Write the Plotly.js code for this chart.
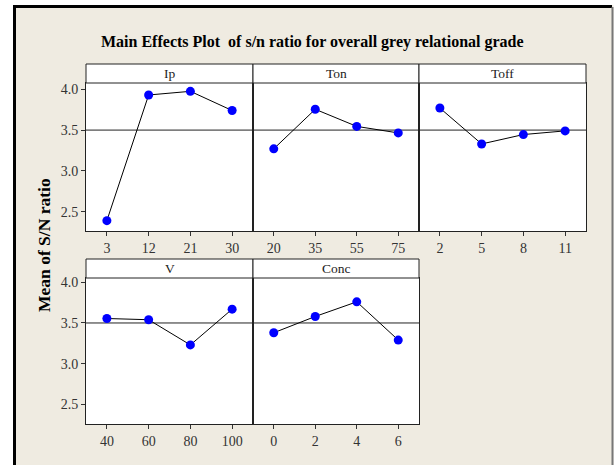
<!DOCTYPE html>
<html>
<head>
<meta charset="utf-8">
<script src="https://cdn.plot.ly/plotly-3.0.1.min.js"></script>
<style>html,body{margin:0;padding:0;background:#fff;}#chart{width:614px;height:465px;}</style>
</head>
<body>
<div id="chart"></div>
<script>
// ---- data ----
const factors = ["Ip", "Ton", "Toff", "V", "Conc"];
const levelsIp = ["3", "12", "21", "30"];
const levelsTon = ["20", "35", "55", "75"];
const levelsToff = ["2", "5", "8", "11"];
const levelsV = ["40", "60", "80", "100"];
const levelsConc = ["0", "2", "4", "6"];
const snIp = [2.39, 3.93, 3.975, 3.74];
const snTon = [3.27, 3.755, 3.545, 3.465];
const snToff = [3.77, 3.33, 3.445, 3.49];
const snV = [3.555, 3.54, 3.23, 3.67];
const snConc = [3.38, 3.58, 3.76, 3.29];
const overallMean = 3.5;
const yTickVals = [2.5, 3.0, 3.5, 4.0];
const yTickText = ["2.5", "3.0", "3.5", "4.0"];

const W = 614, H = 465;
const px = v => v / W;
const py = v => 1 - v / H;

const levels = [levelsIp, levelsTon, levelsToff, levelsV, levelsConc];
const values = [snIp, snTon, snToff, snV, snConc];

// panel geometry (pixels)
const colEdges = [[86, 253], [253, 419], [419, 586]];
const rows = [
  {plotTop: 83, plotBot: 231, stripTop: 64, range: [2.263, 4.077]},
  {plotTop: 278, plotBot: 424, stripTop: 259, range: [2.258, 4.053]}
];
const panelPos = [[0,0],[0,1],[0,2],[1,0],[1,1]];

const serif = "Liberation Serif, Times New Roman, serif";
const traces = [];
const layout = {
  width: W, height: H,
  margin: {l: 0, r: 0, t: 0, b: 0},
  paper_bgcolor: "#EFEBE1",
  plot_bgcolor: "#ffffff",
  showlegend: false,
  shapes: [],
  annotations: []
};

// outside-of-frame white bands and frame lines
layout.shapes.push({type: "rect", xref: "paper", yref: "paper", x0: 0, x1: 1, y0: py(5), y1: 1, fillcolor: "#fff", line: {width: 0}, layer: "below"});
layout.shapes.push({type: "rect", xref: "paper", yref: "paper", x0: 0, x1: px(13), y0: 0, y1: 1, fillcolor: "#fff", line: {width: 0}, layer: "below"});
layout.shapes.push({type: "rect", xref: "paper", yref: "paper", x0: px(613.5), x1: 1, y0: 0, y1: 1, fillcolor: "#fff", line: {width: 0}, layer: "below"});
layout.shapes.push({type: "line", xref: "paper", yref: "paper", x0: px(14.5), x1: px(14.5), y0: py(470), y1: py(5), line: {color: "#000", width: 3}, layer: "below"});
layout.shapes.push({type: "line", xref: "paper", yref: "paper", x0: px(13), x1: px(612), y0: py(6.5), y1: py(6.5), line: {color: "#000", width: 3}, layer: "below"});
layout.shapes.push({type: "line", xref: "paper", yref: "paper", x0: px(612.5), x1: px(612.5), y0: py(470), y1: py(7), line: {color: "#777", width: 2}, layer: "below"});

panelPos.forEach((p, i) => {
  const [r, c] = p;
  const row = rows[r];
  const [xl, xr] = colEdges[c];
  const n = i + 1;
  const xa = n === 1 ? "xaxis" : "xaxis" + n;
  const ya = n === 1 ? "yaxis" : "yaxis" + n;
  const xr_ = n === 1 ? "x" : "x" + n;
  const yr_ = n === 1 ? "y" : "y" + n;

  layout[xa] = {
    domain: [px(xl), px(xr)], anchor: yr_, type: "category",
    range: [-0.5, 3.5], showgrid: false, zeroline: false,
    showline: true, mirror: true, linecolor: "#222", linewidth: 1,
    ticks: "outside", ticklen: 4, tickcolor: "#333",
    tickfont: {family: serif, size: 14, color: "#333"}, fixedrange: true
  };
  layout[ya] = {
    domain: [py(row.plotBot), py(row.plotTop)], anchor: xr_,
    range: row.range, showgrid: false, zeroline: false,
    showline: true, mirror: true, linecolor: "#222", linewidth: 1,
    tickvals: yTickVals, ticktext: yTickText,
    ticks: c === 0 ? "outside" : "", ticklen: 4, tickcolor: "#333",
    showticklabels: c === 0,
    tickfont: {family: serif, size: 14, color: "#333"}, fixedrange: true
  };

  // mean reference line
  layout.shapes.push({type: "line", xref: xr_ + " domain", yref: yr_, x0: 0, x1: 1, y0: overallMean, y1: overallMean,
    line: {color: "#222", width: 1}, layer: "below"});

  // strip
  layout.shapes.push({type: "rect", xref: "paper", yref: "paper", x0: px(xl), x1: px(xr), y0: py(row.plotTop), y1: py(row.stripTop),
    fillcolor: "#ffffff", line: {color: "#222", width: 1}});
  layout.annotations.push({xref: "paper", yref: "paper", x: px((xl + xr) / 2), y: py((row.plotTop + row.stripTop) / 2),
    text: factors[i], showarrow: false, xanchor: "center", yanchor: "middle",
    font: {family: serif, size: 13.5, color: "#222"}});

  traces.push({
    type: "scatter", mode: "lines+markers", x: levels[i], y: values[i],
    xaxis: xr_, yaxis: yr_,
    line: {color: "#000", width: 1},
    marker: {color: "#0000FF", size: 9},
    hoverinfo: "skip"
  });
});

// titles
layout.annotations.push({xref: "paper", yref: "paper", x: px(312), y: py(42), text: "<b>Main Effects Plot  of s/n ratio for overall grey relational grade</b>",
  showarrow: false, xanchor: "center", yanchor: "middle", font: {family: serif, size: 16, color: "#000"}});
layout.annotations.push({xref: "paper", yref: "paper", x: px(44), y: py(245), text: "<b>Mean of S/N ratio</b>", textangle: -90,
  showarrow: false, xanchor: "center", yanchor: "middle", font: {family: serif, size: 17.5, color: "#000"}});

Plotly.newPlot("chart", traces, layout, {displayModeBar: false, staticPlot: true});
</script>
</body>
</html>
